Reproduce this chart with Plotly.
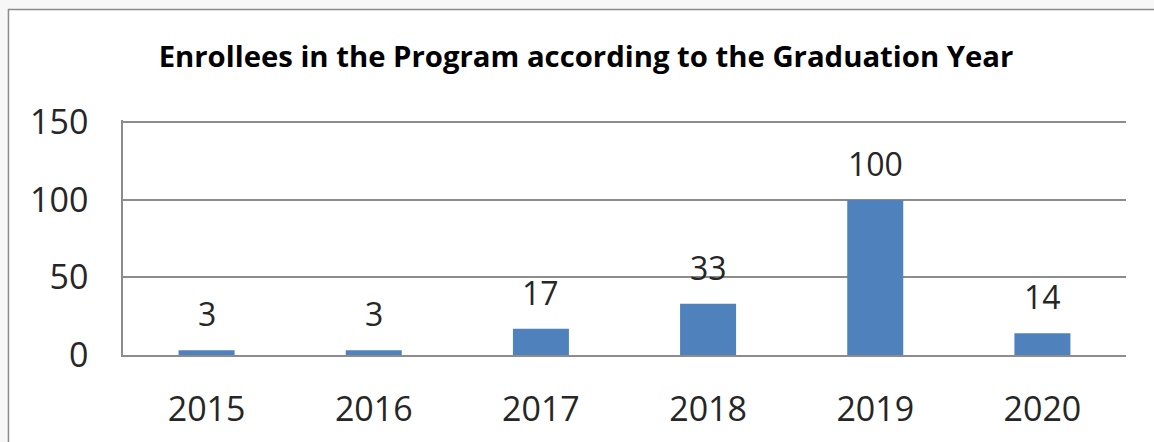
import plotly.graph_objects as go

years = ["2015", "2016", "2017", "2018", "2019", "2020"]
enrollees = [3, 3, 17, 33, 100, 14]

y_ticks = [0, 50, 100, 150]

BAR_BLUE = "#4F81BD"
GRID_GRAY = "#8c8c8c"
TEXT = "#262626"
FONT = "Open Sans"

fig = go.Figure()

fig.add_trace(go.Bar(x=years, y=enrollees, marker=dict(color=BAR_BLUE, line_width=0),
                     hoverinfo="x+y"))

# data labels sit well above the bars, like the Excel chart
# (category axis: annotation x is the category index)
for i, v in enumerate(enrollees):
    fig.add_annotation(x=i, y=v, text=str(v), showarrow=False,
                       yanchor="bottom", yshift=13,
                       font=dict(family=FONT, size=32, color=TEXT))

# outer chart border (box runs off the right / bottom edge of the picture)
fig.add_shape(type="rect", xref="paper", yref="paper",
              x0=-0.1142, x1=1.04, y0=-0.40, y1=1.47,
              line=dict(color=GRID_GRAY, width=1.5), fillcolor="white", layer="below")

fig.update_layout(
    width=1154, height=442,
    margin=dict(l=123, r=28, t=120, b=87, autoexpand=False),
    paper_bgcolor="#f7f7f7",
    plot_bgcolor="rgba(0,0,0,0)",
    bargap=0.665,
    showlegend=False,
    font=dict(family=FONT, color=TEXT),
    title=dict(text="<b>Enrollees in the Program according to the Graduation Year</b>",
               x=586 / 1154, xref="container", xanchor="center",
               y=1 - 57 / 442, yref="container", yanchor="middle",
               font=dict(family=FONT, size=29.3, color="#000000")),
)

fig.update_xaxes(type="category", showline=True, linecolor=GRID_GRAY, linewidth=1.5,
                 showgrid=False, ticks="", ticklabelstandoff=23, automargin=False,
                 tickfont=dict(family=FONT, size=34, color=TEXT))
# range a bit past 150 so plotly keeps the top gridline
fig.update_yaxes(range=[0, 151.5], tickvals=y_ticks, showline=True, linecolor=GRID_GRAY,
                 linewidth=1.5, showgrid=True, gridcolor=GRID_GRAY, gridwidth=1.5,
                 zeroline=False, ticks="", ticklabelstandoff=26, automargin=False,
                 tickfont=dict(family=FONT, size=34, color=TEXT))

# drop the default 8px page margin so the figure sits at the window corner
fig.write_html("out.html", config={"displayModeBar": False},
               post_script="document.body.style.margin='0';")
